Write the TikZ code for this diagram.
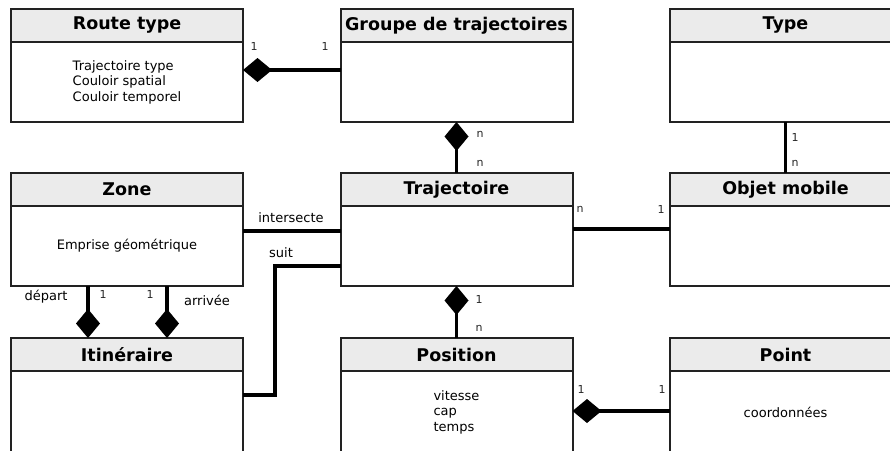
\documentclass[tikz,border=0pt]{standalone}
\usepackage{fontspec}
\setmainfont{DejaVu Sans}
\usetikzlibrary{arrows.meta}
\definecolor{hdrgray}{HTML}{EBEBEB}
\definecolor{edgecol}{HTML}{222222}
\tikzset{
  hdr/.style={draw=edgecol, line width=2pt, fill=hdrgray, minimum width=232pt, minimum height=33pt, inner sep=0pt, outer sep=0pt, font=\fontsize{17.5}{20}\selectfont\bfseries},
  body/.style={draw=edgecol, line width=2pt, fill=white, minimum width=232pt, minimum height=80pt, inner sep=0pt, outer sep=0pt, align=left, font=\fontsize{13}{15.5}\selectfont},
  conn/.style={line width=3.7pt, black},
  diam/.tip={Turned Square[length=29pt,width=24pt,line width=0pt]},
  card/.style={font=\fontsize{11}{12}\selectfont, inner sep=0pt, text=black!85},
  lbl/.style={font=\fontsize{13}{15}\selectfont, inner sep=0pt}
}
\begin{document}
\begin{tikzpicture}[x=1pt,y=-1pt]
\path[use as bounding box] (0,0) rectangle (890,450);
\clip (0,0) rectangle (890,450);
% Row 1
\node[hdr] (rth) at (127,25.5) {Route type};
\node[body,anchor=north] (rtb) at (rth.south) {Trajectoire type\\Couloir spatial\\Couloir temporel};
\node[hdr] (grh) at (456.5,25.5) {Groupe de trajectoires};
\node[body,anchor=north] (grb) at (grh.south) {};
\node[hdr] (tyh) at (785.5,25.5) {Type};
\node[body,anchor=north] (tyb) at (tyh.south) {};
% Row 2
\node[hdr] (zh) at (127,189.5) {Zone};
\node[body,anchor=north] (zb) at (zh.south) {Emprise géométrique};
\node[hdr] (trh) at (456.5,189.5) {Trajectoire};
\node[body,anchor=north] (trb) at (trh.south) {};
\node[hdr] (omh) at (785.5,189.5) {Objet mobile};
\node[body,anchor=north] (omb) at (omh.south) {};
% Row 3
\node[hdr] (ith) at (127,354.5) {Itinéraire};
\node[body,anchor=north,minimum height=82pt] (itb) at (ith.south) {};
\node[hdr] (poh) at (456.5,354.5) {Position};
\node[body,anchor=north,minimum height=82pt] (pob) at (poh.south) {vitesse\\cap\\temps};
\node[hdr] (pth) at (785.5,354.5) {Point};
\node[body,anchor=north,minimum height=82pt] (ptb) at (pth.south) {coordonnées};
% Connectors
\draw[conn, diam-] (rtb.east |- 0,70) -- (grb.west |- 0,70);
\draw[conn, diam-] (grb.south) -- (trh.north);
\draw[conn] (tyb.south) -- (omh.north);
\draw[conn] (trb.east |- 0,229) -- (omb.west |- 0,229);
\draw[conn] (zb.east |- 0,231) -- (trb.west |- 0,231);
\coordinate (sc) at (275,266);
\draw[conn] (itb.east |- 0,395) -| (sc) -- (trb.west |- sc);
\draw[conn, -diam] (zb.south -| 88,0) -- (ith.north -| 88,0);
\draw[conn, -diam] (zb.south -| 167,0) -- (ith.north -| 167,0);
\draw[conn, diam-] (trb.south) -- (poh.north);
\draw[conn, diam-] (pob.east |- 0,411) -- (ptb.west |- 0,411);
% Labels
\node[lbl] (lint) at (291,218) {intersecte};
\node[lbl] (lsuit) at (281,253) {suit};
\node[lbl] (ldep) at (46,297) {départ};
\node[lbl] (larr) at (207,300) {arrivée};
% Cardinalities
\node[card] (c1) at (254,46) {1};
\node[card] (c2) at (325,46) {1};
\node[card] (c3) at (480,134) {n};
\node[card] (c4) at (480,163) {n};
\node[card] (c5) at (795,137) {1};
\node[card] (c6) at (795,163) {n};
\node[card] (c7) at (580,209) {n};
\node[card] (c8) at (661,209) {1};
\node[card] (c9) at (103,294) {1};
\node[card] (c10) at (150,294) {1};
\node[card] (c11) at (479,299) {1};
\node[card] (c12) at (479,328) {n};
\node[card] (c13) at (581,389) {1};
\node[card] (c14) at (662,389) {1};
\end{tikzpicture}
\end{document}
